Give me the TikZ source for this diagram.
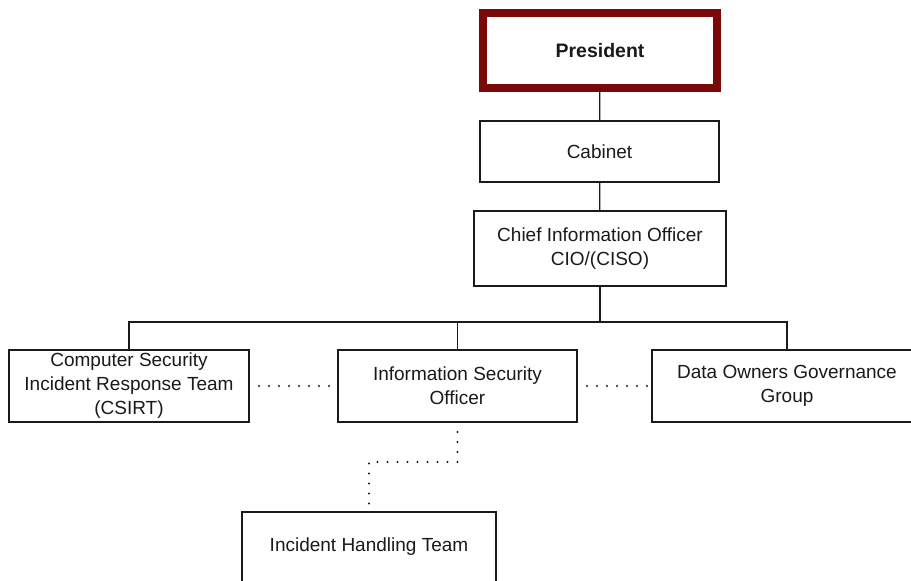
\documentclass[tikz,border=0pt]{standalone}
\usepackage{fontspec}
\setmainfont{Liberation Sans}
\definecolor{boxred}{HTML}{7A0A0A}
\definecolor{ink}{HTML}{1A1A1A}
\begin{document}
\begin{tikzpicture}[x=1pt,y=1pt,
  box/.style={draw=ink, line width=1.4pt, fill=white, text=ink, align=center,
    font=\fontsize{19}{24}\selectfont, inner sep=0pt, outer sep=0pt},
  link/.style={draw=ink, line width=1.3pt},
  dots/.style={draw=ink, line width=2.4pt, line cap=round, dash pattern=on 0pt off 10pt}]
\clip (0,0) rectangle (911,-581);
\fill[white] (0,0) rectangle (911,-581);
\node[box, draw=boxred, line width=8pt, font=\fontsize{19.5}{24}\bfseries, minimum width=234, minimum height=75] (pres) at (600,-50.5) {President};
\node[box, minimum width=239, minimum height=61] (cab) at (599.5,-151.5) {Cabinet};
\node[box, minimum width=252, minimum height=75] (cio) at (600,-248.5) {Chief Information Officer\\CIO/(CISO)};
\node[box, minimum width=240, minimum height=72] (csirt) at (129,-386) {Computer Security\\Incident Response Team\\(CSIRT)};
\node[box, minimum width=239, minimum height=72] (iso) at (457.5,-386) {Information Security\\Officer};
\node[box, minimum width=270, minimum height=72] (dogg) at (787,-386) {Data Owners Governance\\Group};
\node[box, minimum width=254, minimum height=70] (iht) at (369,-547) {Incident Handling Team};
\coordinate (bus) at (600,-322);
\coordinate (bend) at (457.5,-462);
\draw[link] (pres) -- (cab);
\draw[link] (cab) -- (cio);
\draw[link] (cio) -- (bus);
\draw[link] (csirt.north) |- (bus) -| (dogg.north);
\draw[link] (iso.north) -- (iso.north |- bus);
\draw[dots] ([xshift=10pt]csirt.east) -- ([xshift=-3pt]iso.west);
\draw[dots] ([xshift=10pt]iso.east) -- ([xshift=-3pt]dogg.west);
\draw[dots] ([yshift=-10pt]iso.south) -- (bend) -| (iht.north);
\end{tikzpicture}
\end{document}
